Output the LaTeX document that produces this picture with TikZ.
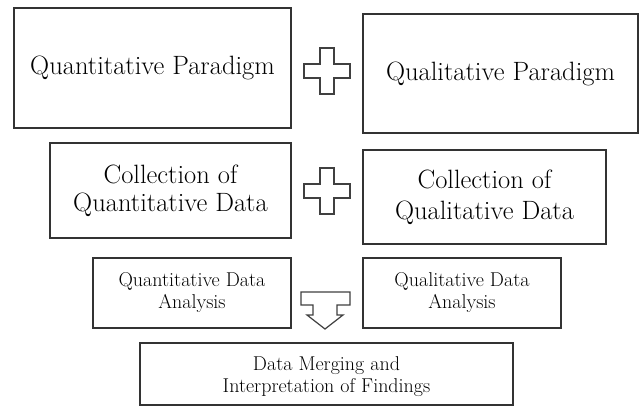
\documentclass[tikz,border=0pt]{standalone}
\begin{document}
\begin{tikzpicture}[x=1pt,y=-1pt,
  box/.style={draw=black!80,line width=1.3pt,rectangle,inner sep=0pt,align=center,text=black},
  bigtext/.style={font=\fontsize{26.5}{31}\selectfont},
  smalltext/.style={font=\fontsize{20}{22}\selectfont},
  glyph/.style={draw=black!75,line width=1.2pt,fill=white,line join=miter},
  plussign/.pic={
    \draw[glyph] (-7,-23) -- (7,-23) -- (7,-7) -- (23,-7) -- (23,7) -- (7,7)
      -- (7,23) -- (-7,23) -- (-7,7) -- (-23,7) -- (-23,-7) -- (-7,-7) -- cycle;
  }]
\useasboundingbox (0,0) rectangle (642,409);
\fill[white] (0,0) rectangle (642,409);

% paradigms
\node[box,bigtext,minimum width=277pt,minimum height=120pt] (quanpar) at (152.5,68) {Quantitative Paradigm};
\node[box,bigtext,minimum width=275pt,minimum height=119pt] (qualpar) at (500.5,73.5) {Qualitative Paradigm};

% data collection
\node[box,bigtext,minimum width=241pt,minimum height=95pt] (quancol) at (170.5,190.5) {\raisebox{-3pt}{Collection of}\\Quantitative Data};
\node[box,bigtext,minimum width=243pt,minimum height=94pt] (qualcol) at (484.5,197) {Collection of\\Qualitative Data};

% analysis
\node[box,smalltext,minimum width=198pt,minimum height=70pt] (quanana) at (192,293) {Quantitative Data\\Analysis};
\node[box,smalltext,minimum width=198pt,minimum height=70pt] (qualana) at (462,293) {Qualitative Data\\Analysis};

% merging
\node[box,smalltext,minimum width=373pt,minimum height=62pt] (merge) at (326.5,374) {};
\node[smalltext,align=center,inner sep=0pt] (mergetext) at ([yshift=-3pt]merge.center) {Data Merging and\\Interpretation of Findings};

% plus signs between the paired boxes
\coordinate (plusA) at (327,71);
\coordinate (plusB) at (327,191);
\pic at (plusA) {plussign};
\pic at (plusB) {plussign};

% block arrow leading down to the merging step
\coordinate (arr) at (301,292);
\draw[glyph] (arr) -- ++(49,0) -- ++(0,13) -- ++(-13,0) -- ++(0,10) -- ++(6,0)
  -- ++(-18,14) -- ++(-18,-14) -- ++(6,0) -- ++(0,-10) -- ++(-12,0) -- cycle;
\end{tikzpicture}
\end{document}
